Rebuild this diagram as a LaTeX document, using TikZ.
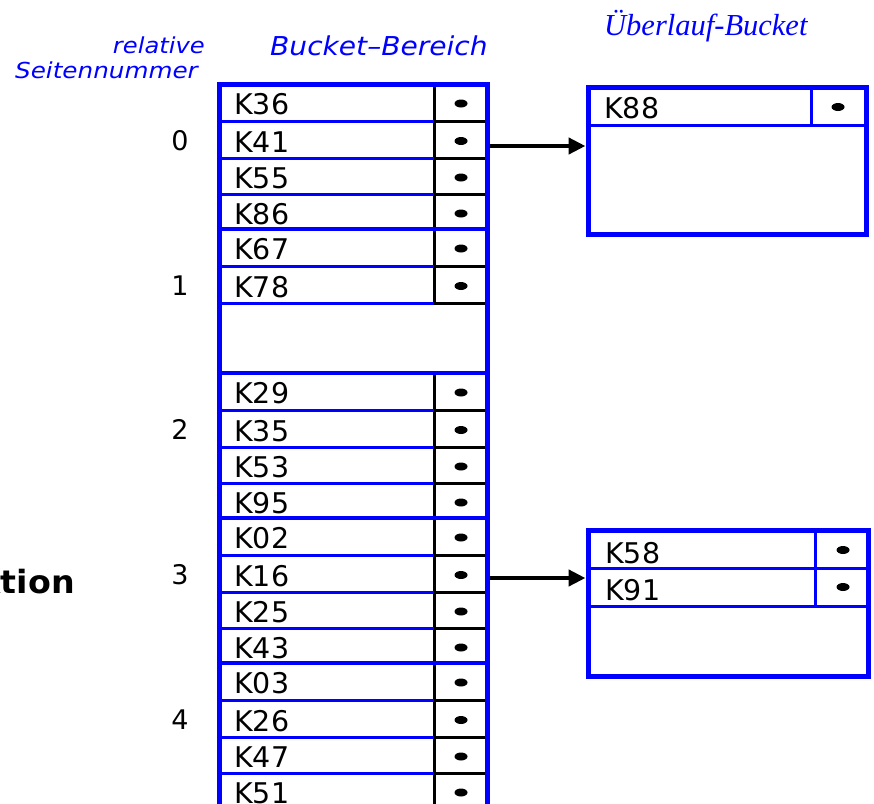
\documentclass[tikz,border=0pt]{standalone}
\usepackage{fontspec}
\usepackage{graphicx}
\usetikzlibrary{arrows.meta}
\setmainfont{DejaVu Sans}
\newfontfamily\serifit{Liberation Serif}
\definecolor{myblue}{RGB}{0,0,255}
\tikzset{
  outerline/.style={draw=myblue, line width=5pt},
  pageline/.style={draw=myblue, line width=4.5pt},
  rowline/.style={draw=myblue, line width=3pt},
  blackline/.style={draw=black, line width=3pt},
  keytext/.style={font=\fontsize{28.5pt}{30pt}\selectfont, inner sep=0pt, anchor=base west},
  numtext/.style={font=\fontsize{27pt}{30pt}\selectfont, inner sep=0pt, anchor=base},
  bluelabel/.style={text=myblue, inner sep=0pt, font=\fontsize{22pt}{24pt}\selectfont\itshape},
  ovbox/.style={draw=myblue, line width=5pt, inner sep=0pt, fill=none},
  ptr/.style={-{Triangle[length=17pt,width=16pt]}, line width=4.5pt},
}
\newcommand\keyrow[3]{%
  \node[keytext] (#3) at (234,{#1+30.5}) {#2};
  \fill (461,{#1+19.5}) ellipse [x radius=6.5pt, y radius=4pt];
}
\newcommand\fullpage[6]{%
  \draw[blackline] (434,#1) -- (434,{#1+145});
  \foreach \rr in {37.5,74,110} {
    \draw[blackline] (434,{#1+\rr}) -- (487,{#1+\rr});
    \draw[rowline] (219,{#1+\rr}) -- (434,{#1+\rr});
  }
  \keyrow{#1}{#2}{#6a}
  \keyrow{#1+37.5}{#3}{#6b}
  \keyrow{#1+74}{#4}{#6c}
  \keyrow{#1+110}{#5}{#6d}
}
\begin{document}
\begin{tikzpicture}[x=1pt,y=-1pt]
\useasboundingbox (0,0) rectangle (874,803);

% labels
\node[bluelabel, anchor=base east] (rel) at (205,53) {\scalebox{1.1}[1]{relative}};
\node[bluelabel, anchor=base east] (sei) at (198,78) {\scalebox{1.12}[1]{Seitennummer}};
\node[bluelabel, anchor=base west, font=\fontsize{26pt}{28pt}\selectfont\itshape] (bb) at (270,55) {\scalebox{1.08}[1]{Bucket–Bereich}};
\node[text=myblue, inner sep=0pt, anchor=base west, font=\serifit\fontsize{30.5pt}{32pt}\selectfont\itshape] (ub) at (604,35) {Überlauf-Bucket};
\node[anchor=base east, inner sep=0pt, font=\fontsize{32pt}{34pt}\selectfont\bfseries] (hf) at (75,593) {\scalebox{1.04}[1]{ktion}};

% page numbers
\node[numtext] (n0) at (180,150) {0};
\node[numtext] (n1) at (180,295) {1};
\node[numtext] (n2) at (180,439) {2};
\node[numtext] (n3) at (180,584) {3};
\node[numtext] (n4) at (180,729) {4};

% main bucket area
\fullpage{84}{K36}{K41}{K55}{K86}{p0}
% page 1
\draw[blackline] (434,229) -- (434,303);
\draw[blackline] (434,266.5) -- (487,266.5);
\draw[rowline] (219,266.5) -- (434,266.5);
\draw[blackline] (434,303) -- (487,303);
\draw[rowline] (219,303) -- (434,303);
\keyrow{229}{K67}{p1a}
\keyrow{266.5}{K78}{p1b}
\fullpage{373}{K29}{K35}{K53}{K95}{p2}
\fullpage{518}{K02}{K16}{K25}{K43}{p3}
\fullpage{663}{K03}{K26}{K47}{K51}{p4}

\foreach \pp in {229,373,518,663} {
  \draw[pageline] (219,\pp) -- (487,\pp);
}
\draw[outerline] (219,815) -- (219,84) -- (487,84) -- (487,815);

% overflow bucket 1
\draw[rowline] (588,125) -- (866,125);
\draw[rowline] (811,87) -- (811,125);
\node[keytext] (o1a) at (604,118) {K88};
\fill (838,107) ellipse [x radius=6.5pt, y radius=4pt];
\node[ovbox, minimum width=278pt, minimum height=147pt] (ov1) at (727,160.5) {};

% overflow bucket 2
\draw[rowline] (588,568) -- (868,568);
\draw[rowline] (588,606) -- (868,606);
\draw[rowline] (815,530) -- (815,606);
\node[keytext] (o2a) at (605,563) {K58};
\node[keytext] (o2b) at (605,600) {K91};
\fill (843,550) ellipse [x radius=6.5pt, y radius=4pt];
\fill (843,587) ellipse [x radius=6.5pt, y radius=4pt];
\node[ovbox, minimum width=280pt, minimum height=146pt] (ov2) at (728,603) {};

% pointers
\coordinate (s0) at (489.5,146);
\coordinate (s3) at (489.5,578);
\draw[ptr] (s0) -- (ov1.west |- s0);
\draw[ptr] (s3) -- (ov2.west |- s3);
\end{tikzpicture}
\end{document}
